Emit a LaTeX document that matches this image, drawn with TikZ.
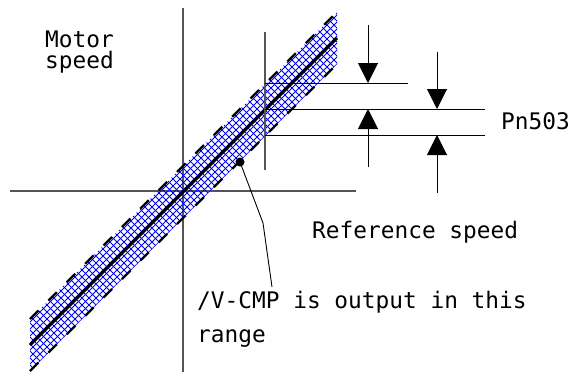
\documentclass[tikz,border=0pt]{standalone}
\usepackage{fontspec}
\setmonofont{DejaVu Sans Mono}
\usepackage{tikz}
\usetikzlibrary{arrows.meta,calc,positioning}
\definecolor{HatchBlue}{HTML}{0000FF}
\definecolor{AxisGray}{HTML}{555555}
\tikzset{
  axisline/.style={AxisGray,line width=1.2pt},
  limitline/.style={black,line width=1pt},
  edgeline/.style={black,line width=2.4pt,dash pattern=on 12pt off 14pt},
  pointer/.style={black,line width=1pt,-{Triangle[length=20pt,width=20pt]}},
  label/.style={font=\ttfamily\fontsize{22.8}{21}\selectfont,inner sep=0pt,anchor=base west}
}

\begin{document}
\begin{tikzpicture}[x=1pt,y=-1pt]
  \useasboundingbox (0,0) rectangle (583,372);
  % axes
  \coordinate (yTop) at (183,8);
  \coordinate (yBot) at (183,372);
  \coordinate (xLeft) at (10,191);
  \coordinate (xRight) at (356,191);
  \draw[axisline] (yTop) -- (yBot);
  \draw[axisline] (xLeft) -- (xRight);
  % band corners
  \coordinate (bandUL) at (30,319);
  \coordinate (bandUR) at (337,12);
  \coordinate (bandLR) at (337,64);
  \coordinate (bandLL) at (30,371);
  \coordinate (midL) at (30,345);
  \coordinate (midR) at (337,38);
  \begin{scope}
    \clip (bandUL) -- (bandUR) -- (bandLR) -- (bandLL) -- cycle;
    \foreach \c in {345,352,...,410}
      \draw[HatchBlue,line width=0.8pt] (\c-400,400) -- (\c,0);
    \foreach \c in {-330,-323,...,350}
      \draw[HatchBlue,line width=0.8pt] (0,\c) -- (400,400+\c);
  \end{scope}
  \draw[edgeline] (bandUL) -- (bandUR);
  \draw[edgeline] (bandLL) -- (bandLR);
  \draw[black,line width=3pt] (midL) -- (midR);
  % Pn503 limits
  \coordinate (refTop) at (265,32);
  \coordinate (refBot) at (265,170);
  \draw[axisline] (refTop) -- (refBot);
  \coordinate (hiL) at (265,83);   \coordinate (hiR) at (408,83);
  \coordinate (midLn) at (265,109); \coordinate (midRn) at (485,109);
  \coordinate (loL) at (265,135);  \coordinate (loR) at (485,135);
  \draw[limitline] (hiL) -- (hiR);
  \draw[limitline] (midLn) -- (midRn);
  \draw[limitline] (loL) -- (loR);
  \coordinate (aTop) at (368,25);  \coordinate (aTip) at (368,83);
  \coordinate (aBot) at (368,167); \coordinate (aTipB) at (368,109);
  \coordinate (bTop) at (437,52);  \coordinate (bTip) at (437,109);
  \coordinate (bBot) at (437,193); \coordinate (bTipB) at (437,135);
  \draw[pointer] (aTop) -- (aTip);
  \draw[pointer] (aBot) -- (aTipB);
  \draw[pointer] (bTop) -- (bTip);
  \draw[pointer] (bBot) -- (bTipB);
  % leader to the band
  \coordinate (dot) at (240,162);
  \coordinate (bend) at (263,223);
  \coordinate (leadEnd) at (272,287);
  \fill (dot) circle (4.5pt);
  \draw[black,line width=0.9pt] (dot) -- (bend) -- (leadEnd);
  % texts
  \node[label,align=left] (motor) at (45,68) {Motor\\speed};
  \node[label] (pn) at (501,129) {Pn503};
  \node[label] (refspeed) at (312,238) {Reference speed};
  \node[label] (vcmp) at (197,308) {/V-CMP is output in this};
  \node[label] (range) at (197,342) {range};
\end{tikzpicture}
\end{document}
